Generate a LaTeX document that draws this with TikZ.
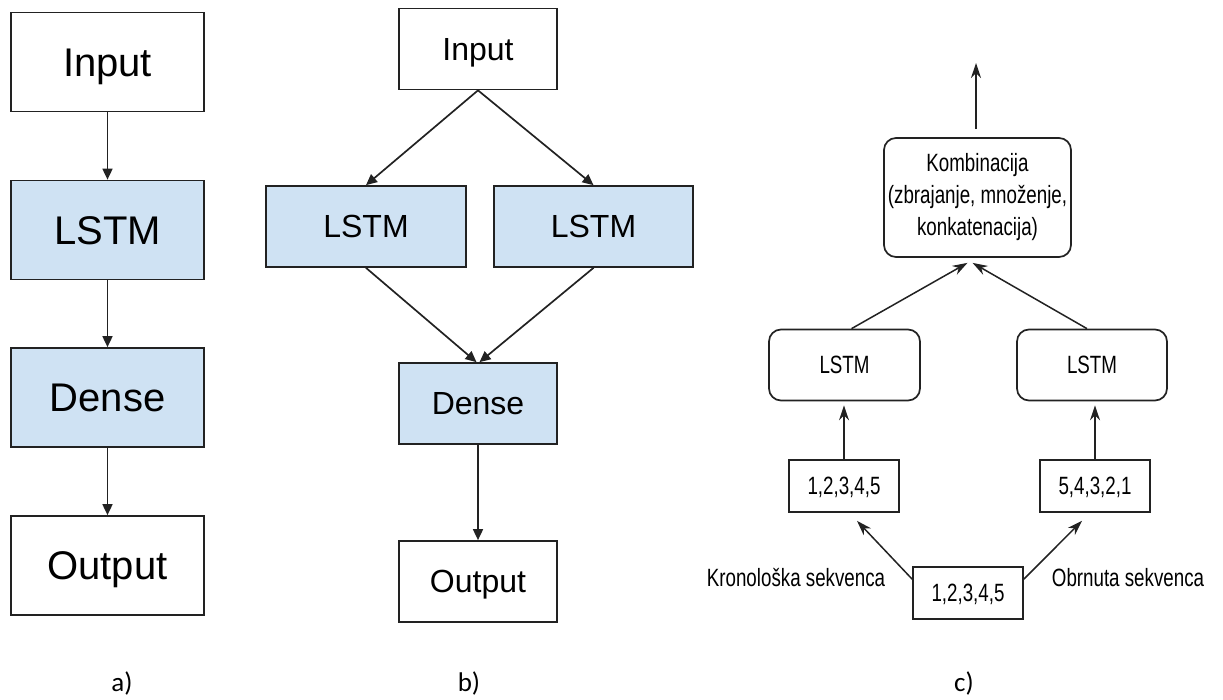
\documentclass[tikz,border=0pt]{standalone}
\usepackage{fontspec}
\usetikzlibrary{arrows.meta,calc}
\newfontfamily\arialf{Liberation Sans}
\newfontfamily\narrowf[FakeStretch=0.75]{Liberation Sans}
\newfontfamily\labelf{Carlito}
\definecolor{lblue}{HTML}{CFE2F3}
\definecolor{edge}{HTML}{222222}
\tikzset{
  capc/.style={text height=#1, text depth=0pt},
  boxa/.style={draw=edge, line width=1.7pt, inner sep=0pt, minimum width=193pt, minimum height=99pt, font=\arialf\fontsize{40}{48}\selectfont, capc=28.6pt},
  boxb/.style={draw=edge, line width=1.7pt, inner sep=0pt, minimum height=81pt, font=\arialf\fontsize{32}{38}\selectfont, capc=22.9pt},
  blue/.style={fill=lblue},
  arrab/.style={draw=edge, line width=1.7pt, -{Triangle[length=11pt,width=10pt]}},
  rbox/.style={draw=edge, line width=1.7pt, rounded corners=12pt, inner sep=0pt, font=\narrowf\fontsize{25}{32}\selectfont, align=center},
  nbox/.style={draw=edge, line width=1.7pt, inner sep=0pt, minimum width=110pt, minimum height=52pt, font=\narrowf\fontsize{25}{30}\selectfont, capc=17.9pt},
  arrc/.style={draw=edge, line width=1.5pt, -{Stealth[length=15pt,width=10pt]}},
  ctext/.style={font=\narrowf\fontsize{25}{30}\selectfont, inner sep=0pt},
  lbl/.style={font=\labelf\fontsize{27}{32}\selectfont, inner sep=0pt}
}
\begin{document}
\begin{tikzpicture}[x=1pt,y=-1pt]
\useasboundingbox (0,0) rectangle (1223,699);
% ---------- a) ----------
\node[boxa] (aIn) at (107.5,62) {Input};
\node[boxa,blue] (aL) at (107.5,230) {LSTM};
\node[boxa,blue] (aD) at (107.5,397.5) {Dense};
\node[boxa] (aO) at (107.5,565.5) {Output};
\draw[arrab] (aIn) -- (aL);
\draw[arrab] (aL) -- (aD);
\draw[arrab] (aD) -- (aO);
\node[lbl] (la) at (122,683) {a)};
% ---------- b) ----------
\node[boxb, minimum width=158pt] (bIn) at (478,49) {Input};
\node[boxb, blue, minimum width=200pt] (bL1) at (366,226.5) {LSTM};
\node[boxb, blue, minimum width=199pt] (bL2) at (593.5,226.5) {LSTM};
\node[boxb, blue, minimum width=158pt] (bD) at (478,403.5) {Dense};
\node[boxb, minimum width=158pt] (bO) at (478,581.5) {Output};
\draw[arrab] (bIn.south) -- (bL1.north);
\draw[arrab] (bIn.south) -- (bL2.north);
\draw[arrab] (bL1.south) -- ($(bD.north)+(-1.5,0)$);
\draw[arrab] (bL2.south) -- ($(bD.north)+(1.5,0)$);
\draw[arrab] (bD) -- (bO);
\node[lbl] (lb) at (469,683) {b)};
% ---------- c) ----------
\node[rbox, minimum width=187pt, minimum height=119pt] (cK) at (977.5,197.5) {Kombinacija\\(zbrajanje, množenje,\\konkatenacija)};
\coordinate (cTop) at (976,63);
\draw[arrc] ($(cK.north)+(-1.5,-8)$) -- (cTop);
\node[rbox, capc=17.9pt, minimum width=151pt, minimum height=71pt] (cL1) at (844.5,365) {LSTM};
\node[rbox, capc=17.9pt, minimum width=150pt, minimum height=71pt] (cL2) at (1092,365) {LSTM};
\draw[arrc] ($(cL1.north)+(7,0)$) -- ($(cK.south)+(-10,5)$);
\draw[arrc] ($(cL2.north)+(-5,0)$) -- ($(cK.south)+(-5,5)$);
\node[nbox] (cN1) at (844,486) {1,2,3,4,5};
\node[nbox] (cN2) at (1095,486) {5,4,3,2,1};
\draw[arrc] (cN1.north) -- ($(cL1.south)+(-0.5,4)$);
\draw[arrc] (cN2.north) -- ($(cL2.south)+(3,4)$);
\node[nbox] (cB) at (968,593) {1,2,3,4,5};
\draw[arrc] ($(cB.north west)+(0,13)$) -- ($(cN1.south)+(13,8)$);
\draw[arrc] ($(cB.north east)+(0,13)$) -- ($(cN2.south)+(-13,8)$);
\node[ctext] (kron) at (796,578) {Kronološka sekvenca};
\node[ctext] (obrn) at (1128,578) {Obrnuta sekvenca};
\node[lbl] (lc) at (964,683) {c)};
\end{tikzpicture}
\end{document}
